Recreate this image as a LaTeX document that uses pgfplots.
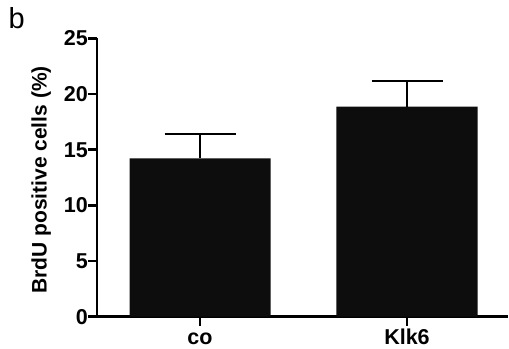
\documentclass[border=0pt]{standalone}
\usepackage{pgfplots}
\pgfplotsset{compat=1.18}
\usepackage{fontspec}
\setmainfont{Liberation Sans}
\definecolor{barfill}{RGB}{13,13,13}
\begin{document}
\begin{tikzpicture}[x=1bp,y=1bp]
\path[use as bounding box] (0,0) rectangle (509,348);
\node[anchor=base west, inner sep=0pt, font=\fontsize{29bp}{31bp}\selectfont] at (8.5,319.7) {b};
\node[rotate=90, anchor=base, inner sep=0pt, font=\fontsize{21bp}{23bp}\selectfont\bfseries] at (46.5,168) {BrdU positive cells (\%)};
\begin{axis}[
  at={(97bp,31.3bp)}, anchor=south west,
  scale only axis, width=411bp, height=278.3bp,
  xmin=-0.4976, xmax=1.488, ymin=0, ymax=25,
  axis x line=bottom, axis y line=left,
  axis line style={-, line width=2.6bp, black},
  tick align=outside, major tick length=9bp,
  tick style={line width=2.6bp, black},
  xtick={0,1}, xticklabels={co,Klk6},
  ytick={0,5,...,25},
  /pgf/number format/assume math mode=true,
  ticklabel style={font=\fontsize{21.5bp}{23bp}\selectfont\bfseries},
  yticklabel style={inner sep=0pt, xshift=0bp},
  xticklabel style={anchor=base, inner sep=0pt, yshift=-18.5bp},
  ybar, bar width=141bp,
]
\addplot[fill=barfill, draw=none,
  error bars/.cd, y dir=plus, y explicit,
  error bar style={line width=1.7bp, black},
  error mark options={rotate=90, mark size=35.5bp, line width=1.7bp, black}]
  coordinates {(0,14.23) +- (0,2.16) (1,18.87) +- (0,2.31)};
\end{axis}
\end{tikzpicture}
\end{document}
